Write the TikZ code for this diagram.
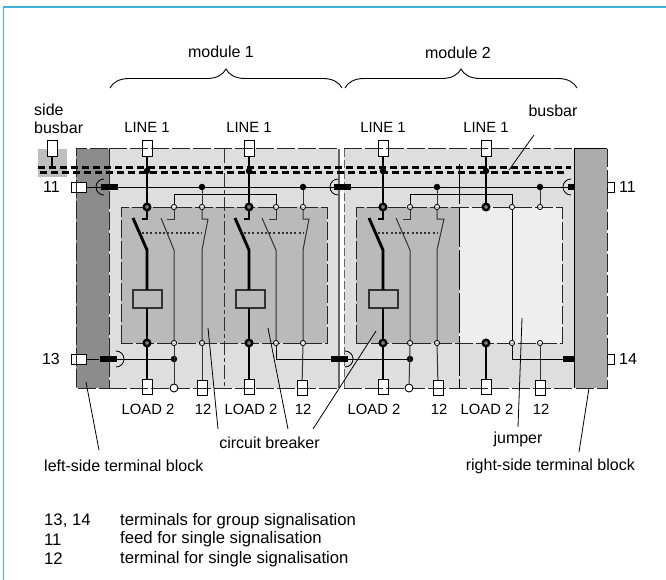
\documentclass[tikz,border=0pt]{standalone}
\usepackage{fontspec}
\setmainfont{Liberation Sans}
\usetikzlibrary{positioning}
\usetikzlibrary{decorations.pathreplacing}
\definecolor{frameblue}{RGB}{60,178,212}
\definecolor{leftgray}{RGB}{140,140,140}
\definecolor{rightgray}{RGB}{172,172,172}
\definecolor{modgray}{RGB}{222,222,222}
\definecolor{brkgray}{RGB}{186,186,186}
\definecolor{jumpgray}{RGB}{238,238,238}
\definecolor{sidegray}{RGB}{190,190,190}
\definecolor{wiregray}{RGB}{50,50,50}
\tikzstyle{terminal} = [rectangle, minimum width=10pt, minimum height=15.5pt, inner sep=0pt, draw=black, fill=white, line width=0.9pt]
\tikzstyle{sideterm} = [rectangle, minimum width=15pt, minimum height=10pt, inner sep=0pt, draw=black, fill=white, line width=0.9pt]
\tikzstyle{smallterm} = [rectangle, minimum width=7pt, minimum height=10pt, inner sep=0pt, draw=black, fill=white, line width=0.9pt]
\tikzstyle{coil} = [rectangle, minimum width=29pt, minimum height=18pt, inner sep=0pt, draw=wiregray, fill=brkgray, line width=1.2pt]
\tikzstyle{maindot} = [circle, minimum size=6.5pt, inner sep=0pt, draw=black, fill=gray, line width=2.4pt]
\tikzstyle{opendot} = [circle, minimum size=5.2pt, inner sep=0pt, draw=black, fill=white, fill opacity=0.7, line width=0.8pt]
\tikzstyle{blackdot} = [circle, minimum size=6.5pt, inner sep=0pt, fill=black]
\tikzstyle{bigopen} = [circle, minimum size=8pt, inner sep=0pt, draw=black, fill=white, line width=0.9pt]
\tikzstyle{barblock} = [rectangle, minimum width=17pt, minimum height=6pt, inner sep=0pt, fill=black]
\tikzstyle{label} = [inner sep=0pt, font=\fontsize{16}{18}\selectfont]
\tikzstyle{capslabel} = [inner sep=0pt, font=\fontsize{14.8}{18}\selectfont]
\tikzstyle{keylabel} = [inner sep=0pt, anchor=west, font=\fontsize{16.7}{18}\selectfont]
\tikzstyle{wire} = [line width=0.85pt, draw=black]
\tikzstyle{pole} = [line width=1pt, draw=wiregray]
\tikzstyle{mainline} = [line width=2.9pt, draw=black]
\tikzstyle{outline} = [line width=1pt, draw=black!85, dash pattern=on 18pt off 3pt]
\tikzstyle{leader} = [line width=0.8pt, draw=black]
\tikzstyle{busline} = [line width=3pt, draw=black, dash pattern=on 7pt off 4pt]
\tikzstyle{thebrace} = [line width=0.9pt, decoration={brace, amplitude=19pt}, decorate]

\begin{document}
\begin{tikzpicture}[x=1pt, y=-1pt]
	\useasboundingbox (0,0) rectangle (666,580);
	
	\draw [frameblue, line width=1.5pt] (3.5,580) -- (3.5,7) -- (666,7);
	
	% grey areas
	\fill [sidegray] (38,149) rectangle (67,177);
	\fill [modgray] (109,149) rectangle (339,388);
	\fill [modgray] (344,149) rectangle (574,388);
	\fill [leftgray] (76,149) rectangle (109,388);
	\fill [rightgray] (574,149) rectangle (607,388);
	\fill [brkgray] (121,207) rectangle (327,343);
	\fill [brkgray] (356,207) rectangle (459,343);
	\fill [jumpgray] (459,207) rectangle (562,343);
	
	% terminals on top and bottom
	\node (side_term) [terminal] at (52,148.5) {};
	\node (line_a) [terminal] at (147,148.5) {};
	\node (line_b) [terminal] at (249,148.5) {};
	\node (line_c) [terminal] at (383,148.5) {};
	\node (line_d) [terminal] at (486,148.5) {};
	\node (load_a) [terminal] at (147,387) {};
	\node (load_b) [terminal] at (249,387) {};
	\node (load_c) [terminal] at (383,387) {};
	\node (load_d) [terminal] at (486,387) {};
	\node (sigterm_a) [terminal] at (202,388) {};
	\node (sigterm_b) [terminal] at (302,388) {};
	\node (sigterm_c) [terminal] at (438,388) {};
	\node (sigterm_d) [terminal] at (540,388) {};
	
	\node (term_11) [sideterm] at (78.5,187) {};
	\node (term_13) [sideterm] at (78.5,359) {};
	\node (term_11r) [smallterm] at (610.5,187) {};
	\node (term_14) [smallterm] at (610.5,359) {};
	
	% outlines
	\draw [outline] (109,149) -- (339,149);
	\draw [outline] (344,149) -- (574,149);
	\draw [outline] (109,388) -- (339,388);
	\draw [outline] (344,388) -- (574,388);
	\draw [outline] (109,149) rectangle (76,388);
	\draw [outline] (607,149) -- (607,388) -- (574,388);
	\draw [line width=1pt] (574,388) -- (574,149) -- (607,149);
	\draw [line width=1.4pt, draw=gray!80!black] (339,149) -- (339,388);
	\draw [outline, draw=gray!80!black, dash pattern=on 8pt off 3pt] (344,149) -- (344,388);
	\draw [line width=1pt, draw=wiregray, dash pattern=on 14pt off 3pt on 4pt off 3pt] (224,149) -- (224,388);
	\draw [line width=1pt, dash pattern=on 40pt off 3pt] (459,164) -- (459,388);
	\draw [outline] (121,343) -- (121,207) -- (327,207) -- (327,343) -- cycle;
	\draw [outline] (356,343) -- (356,207) -- (562,207) -- (562,343) -- cycle;
	
	% nodes of the four breakers
	\node (feedout_a) [bigopen] at (174,388) {};
	\node (feedout_c) [bigopen] at (409,388) {};
	\node (bus_a) [blackdot] at (147,171) {};
	\node (bus_b) [blackdot] at (249,171) {};
	\node (bus_c) [blackdot] at (383,171) {};
	\node (bus_d) [blackdot] at (486,171) {};
	\node (main_a) [maindot] at (147,207) {};
	\node (main_b) [maindot] at (249,207) {};
	\node (main_c) [maindot] at (383,207) {};
	\node (main_d) [maindot] at (486,207) {};
	\node (out_a) [maindot] at (147,343) {};
	\node (out_b) [maindot] at (249,343) {};
	\node (out_c) [maindot] at (383,343) {};
	\node (out_d) [maindot] at (486,343) {};
	\node (coil_a) [coil] at (147.5,299) {};
	\node (coil_b) [coil] at (250.5,299) {};
	\node (coil_c) [coil] at (383.5,299) {};
	
	\node (aux_a) [opendot] at (174,207) {};
	\node (aux_b) [opendot] at (276,207) {};
	\node (aux_c) [opendot] at (410,207) {};
	\node (aux_d) [opendot] at (512,207) {};
	\node (sig_a) [opendot] at (202,207) {};
	\node (sig_b) [opendot] at (303,207) {};
	\node (sig_c) [opendot] at (437,207) {};
	\node (sig_d) [opendot] at (540,207) {};
	\node (auxout_a) [opendot] at (174,343) {};
	\node (auxout_b) [opendot] at (276,343) {};
	\node (auxout_c) [opendot] at (410,343) {};
	\node (auxout_d) [opendot] at (512,343) {};
	\node (sigout_a) [opendot] at (202,343) {};
	\node (sigout_b) [opendot] at (303,343) {};
	\node (sigout_c) [opendot] at (437,343) {};
	\node (sigout_d) [opendot] at (540,343) {};
	
	\node (feed_a) [blackdot] at (202,187) {};
	\node (feed_b) [blackdot] at (303,187) {};
	\node (feed_c) [blackdot] at (437,187) {};
	\node (feed_d) [blackdot] at (540,187) {};
	\node (group_a) [blackdot] at (174,359) {};
	\node (group_c) [blackdot] at (410,359) {};
	
	\node (bar_11) [barblock] at (109.5,187) {};
	\node (bar_m1) [barblock] at (342.5,187) {};
	\node (bar_m2) [barblock, minimum width=6pt] at (571,187) {};
	\node (bar_13) [barblock] at (108,359) {};
	\node (bar_m3) [barblock] at (339.5,359) {};
	\node (bar_m4) [barblock, minimum width=11pt] at (568.5,359) {};
	
	% thick main lines
	\draw [mainline] (line_a) -- (main_a);
	\draw [mainline] (line_b) -- (main_b);
	\draw [mainline] (line_c) -- (main_c);
	\draw [mainline] (line_d) -- (main_d);
	\draw [mainline] (main_a) -- (147,219) -- (142,219);
	\draw [mainline] (main_b) -- (249,219) -- (244,219);
	\draw [mainline] (main_c) -- (383,219) -- (378,219);
	\draw [mainline] (133,218) -- (147,250) -- (147,290);
	\draw [mainline] (235,218) -- (249,250) -- (249,290);
	\draw [mainline] (369,218) -- (383,250) -- (383,290);
	\draw [mainline] (147,308) -- (out_a);
	\draw [mainline] (249,308) -- (out_b);
	\draw [mainline] (383,308) -- (out_c);
	\draw [mainline] (out_a) -- (load_a);
	\draw [mainline] (out_b) -- (load_b);
	\draw [mainline] (out_c) -- (load_c);
	\draw [mainline] (out_d) -- (load_d);
	
	% switch poles
	\draw [pole] (aux_a) -- (174,219) -- (167,219);
	\draw [pole] (161,218) -- (174,250) -- (auxout_a);
	\draw [pole] (sig_a) -- (202,219) -- (208,219) -- (202,250) -- (sigout_a);
	\draw [pole] (aux_b) -- (276,219) -- (269,219);
	\draw [pole] (262,218) -- (276,250) -- (auxout_b);
	\draw [pole] (sig_b) -- (303,219) -- (309,219) -- (303,250) -- (sigout_b);
	\draw [pole] (aux_c) -- (410,219) -- (403,219);
	\draw [pole] (396,218) -- (410,250) -- (auxout_c);
	\draw [pole] (sig_c) -- (437,219) -- (444,219) -- (437,250) -- (sigout_c);
	\draw [wire] (aux_d) -- (auxout_d);
	
	\draw [line width=1.1pt, wiregray, dash pattern=on 2pt off 2.2pt] (142,233) -- (202,233);
	\draw [line width=1.1pt, wiregray, dash pattern=on 2pt off 2.2pt] (244,233) -- (303,233);
	\draw [line width=1.1pt, wiregray, dash pattern=on 2pt off 2.2pt] (378,233) -- (437,233);
	
	% feed lines
	\draw [wire] (term_11) -- (bar_11);
	\draw [wire] (bar_11) -- (bar_m1);
	\draw [wire] (bar_m1) -- (bar_m2);
	\draw [pole] (feed_a) -- (sig_a);
	\draw [pole] (feed_b) -- (sig_b);
	\draw [pole] (feed_c) -- (sig_c);
	\draw [pole] (feed_d) -- (sig_d);
	\draw [wire] (aux_a) -- (174,194) -- (276,194) -- (aux_b);
	\draw [wire] (aux_c) -- (410,194) -- (512,194) -- (aux_d);
	\draw [wire] (term_13) -- (bar_13);
	\draw [wire] (bar_13) -- (group_a);
	\draw [wire] (auxout_b) -- (276,359) -- (bar_m3);
	\draw [wire] (bar_m3) -- (group_c);
	\draw [wire] (auxout_d) -- (512,359) -- (bar_m4);
	\draw [pole] (auxout_a) -- (feedout_a);
	\draw [pole] (auxout_c) -- (feedout_c);
	\draw [pole] (sigout_a) -- (sigterm_a);
	\draw [pole] (sigout_b) -- (sigterm_b);
	\draw [pole] (sigout_c) -- (sigterm_c);
	\draw [pole] (sigout_d) -- (sigterm_d);
	\draw [mainline, line width=1.8pt] (side_term) -- (52,168);
	
	% half round contacts
	\draw [wire] (104,195) arc (90:270:8);
	\draw [wire] (338,195) arc (90:270:8);
	\draw [wire] (571,195) arc (90:270:8);
	\draw [wire] (116,367) arc (90:-90:8);
	\draw [wire] (345,367) arc (90:-90:8);
	
	% busbars
	\draw [busline] (38,168) -- (571,168);
	\draw [busline] (40,173) -- (567,173);
	
	% labels
	\node (module_a) [label] at (221,52) {module 1};
	\node (module_b) [label] at (458,53) {module 2};
	\coordinate (brace_a) at (110,88);
	\coordinate (brace_b) at (342,88);
	\coordinate (brace_c) at (345,88);
	\coordinate (brace_d) at (577,88);
	\draw [thebrace] (brace_a) -- (brace_b);
	\draw [thebrace] (brace_c) -- (brace_d);
	\node (side_lbl) [label, align=left, anchor=west] at (34,118.5) {side\\busbar};
	\node (bus_lbl) [label] at (553,111) {busbar};
	\node (linelbl_a) [capslabel] at (147,127) {LINE 1};
	\node (linelbl_b) [capslabel] at (249,127) {LINE 1};
	\node (linelbl_c) [capslabel] at (383,127) {LINE 1};
	\node (linelbl_d) [capslabel] at (486,127) {LINE 1};
	\node (lbl_11) [label, anchor=east] at (60,187) {11};
	\node (lbl_13) [label, anchor=east] at (60,359) {13};
	\node (lbl_11r) [label, anchor=west] at (619,187) {11};
	\node (lbl_14) [label, anchor=west] at (619,359) {14};
	\node (loadlbl_a) [capslabel] at (148,409) {LOAD 2};
	\node (loadlbl_b) [capslabel] at (251,409) {LOAD 2};
	\node (loadlbl_c) [capslabel] at (374,409) {LOAD 2};
	\node (loadlbl_d) [capslabel] at (487,409) {LOAD 2};
	\node (siglbl_a) [capslabel] at (203,409) {12};
	\node (siglbl_b) [capslabel] at (303,409) {12};
	\node (siglbl_c) [capslabel] at (439,409) {12};
	\node (siglbl_d) [capslabel] at (541,409) {12};
	\node (cb_lbl) [label] at (269.5,443) {circuit breaker};
	\node (jump_lbl) [label] at (518,439) {jumper};
	\node (left_lbl) [label, anchor=west] at (44,466) {left-side terminal block};
	\node (right_lbl) [label, anchor=east] at (635,466) {right-side terminal block};
	\node (key_a) [keylabel] at (44,521) {13, 14};
	\node (key_b) [keylabel] at (44,539.5) {11};
	\node (key_c) [keylabel] at (44,559) {12};
	\node (text_a) [keylabel] at (120,521) {terminals for group signalisation};
	\node (text_b) [keylabel] at (120,539.5) {feed for single signalisation};
	\node (text_c) [keylabel] at (120,559) {terminal for single signalisation};
	
	% leader lines
	\draw [leader] (86,382) -- (99,450);
	\draw [leader] (208,328) -- (218,429);
	\draw [leader] (268,328) -- (288,429);
	\draw [leader] (376,331) -- (313,429);
	\draw [leader] (522,318) -- (518,427);
	\draw [leader] (589,388) -- (579,452);
	\draw [leader] (534,135) -- (509,170);
\end{tikzpicture}
\end{document}
